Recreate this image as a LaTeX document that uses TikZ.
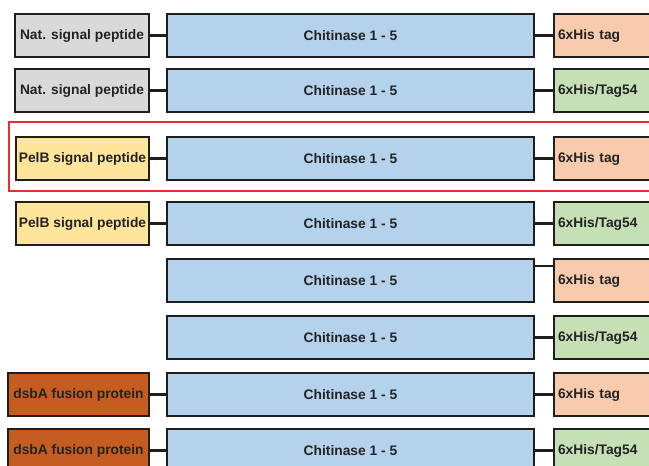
\documentclass[tikz,border=0pt]{standalone}
\usepackage{fontspec}
\setmainfont{Liberation Sans}
\definecolor{edge}{RGB}{30,30,30}
\definecolor{txt}{RGB}{35,35,35}
\definecolor{natfill}{RGB}{217,217,217}
\definecolor{pelfill}{RGB}{255,228,155}
\definecolor{dsbfill}{RGB}{197,92,32}
\definecolor{chifill}{RGB}{180,210,235}
\definecolor{hisfill}{RGB}{248,203,173}
\definecolor{tagfill}{RGB}{197,224,180}
\definecolor{frame}{RGB}{235,45,45}
\begin{document}
\begin{tikzpicture}[x=1pt,y=-1pt,
  part/.style={draw=edge, line width=2pt, inner sep=0pt, anchor=north west,
    minimum height=43pt, text=txt, font=\bfseries\fontsize{13.8}{15}\selectfont},
  natbox/.style={part, fill=natfill, minimum width=134pt},
  pelbox/.style={part, fill=pelfill, minimum width=133pt},
  dsbbox/.style={part, fill=dsbfill, minimum width=141pt},
  chibox/.style={part, fill=chifill, minimum width=367pt},
  hisbox/.style={part, fill=hisfill, minimum width=120pt, text width=112pt, align=left},
  tagbox/.style={part, fill=tagfill, minimum width=120pt, text width=112pt, align=left},
  link/.style={draw=edge, line width=2.3pt},
  highlight/.style={draw=frame, line width=1.6pt}]
\useasboundingbox (0,0) rectangle (649,466);
\clip (0,0) rectangle (649,466);
\fill[white] (0,0) rectangle (649,466);

% row 1
\node[natbox] (l1) at (14,13) {Nat. signal peptide};
\node[chibox] (c1) at (166,13) {Chitinase 1 - 5};
\node[hisbox] (t1) at (553,13) {6xHis tag};
% row 2
\node[natbox] (l2) at (14,68) {Nat. signal peptide};
\node[chibox] (c2) at (166,68) {Chitinase 1 - 5};
\node[tagbox] (t2) at (553,68) {6xHis/Tag54};
% row 3 (framed)
\node[pelbox] (l3) at (15,136) {PelB signal peptide};
\node[chibox] (c3) at (166,136) {Chitinase 1 - 5};
\node[hisbox] (t3) at (553,136) {6xHis tag};
% row 4
\node[pelbox] (l4) at (15,201) {PelB signal peptide};
\node[chibox] (c4) at (166,201) {Chitinase 1 - 5};
\node[tagbox] (t4) at (553,201) {6xHis/Tag54};
% row 5
\node[chibox] (c5) at (166,258) {Chitinase 1 - 5};
\node[hisbox] (t5) at (553,258) {6xHis tag};
% row 6
\node[chibox] (c6) at (166,315) {Chitinase 1 - 5};
\node[tagbox] (t6) at (553,315) {6xHis/Tag54};
% row 7
\node[dsbbox] (l7) at (7,372) {dsbA fusion protein};
\node[chibox] (c7) at (166,372) {Chitinase 1 - 5};
\node[hisbox] (t7) at (553,372) {6xHis tag};
% row 8
\node[dsbbox] (l8) at (7,428) {dsbA fusion protein};
\node[chibox] (c8) at (166,428) {Chitinase 1 - 5};
\node[tagbox] (t8) at (553,428) {6xHis/Tag54};

% connectors
\foreach \r in {1,2,3,4,7,8}
  \draw[link] (l\r.east) -- (c\r.west);
\foreach \r in {1,2,3,4,6,7,8}
  \draw[link] (c\r.east) -- (t\r.west);
\draw[link] ([yshift=-8pt]c5.north east) -- ([yshift=-8pt]t5.north west);

% frame around the PelB / 6xHis tag construct
\draw[highlight] (9,122) rectangle (660,191);
\end{tikzpicture}
\end{document}
